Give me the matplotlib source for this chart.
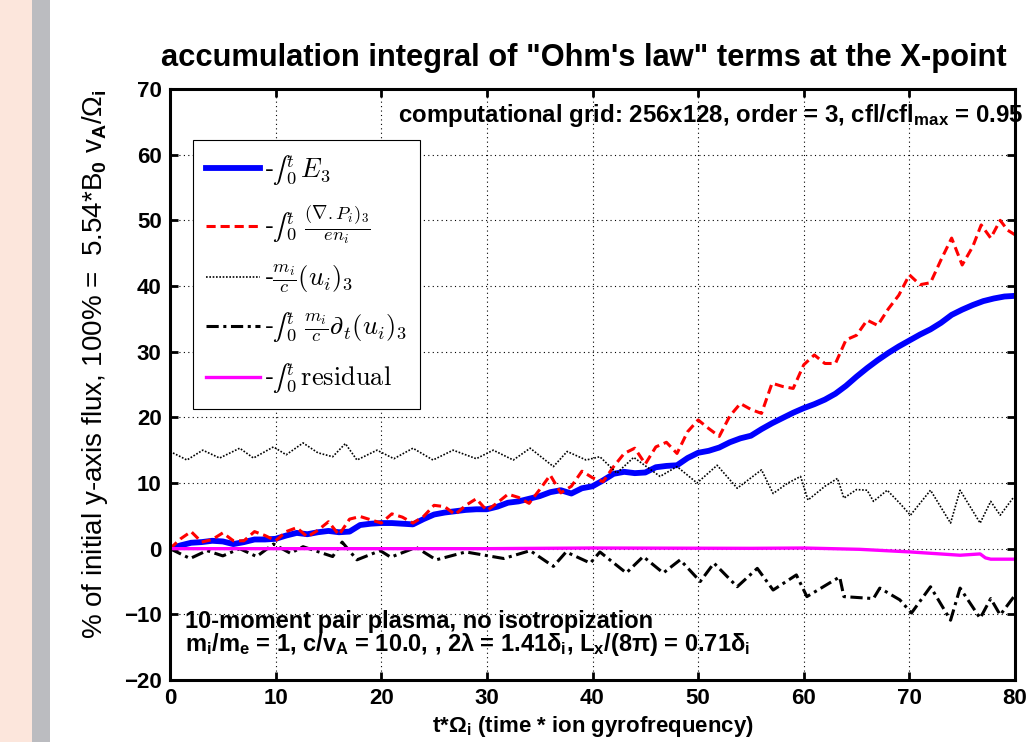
import numpy as np
import matplotlib
matplotlib.use("Agg")
import matplotlib.pyplot as plt
from matplotlib.font_manager import FontProperties
from matplotlib.patches import Rectangle

# ---- data (t*Omega_i, % of initial flux) ----
t_E3 = [0, 1, 2, 3, 4, 5, 6, 7, 8, 9, 10, 11, 12, 13, 14, 15, 16, 17, 18, 19, 20,
        21, 22, 23, 24, 25, 26, 27, 28, 29, 30, 31, 32, 33, 34, 35, 36, 37, 38, 39, 40,
        41, 42, 43, 44, 45, 46, 47, 48, 49, 50, 51, 52, 53, 54, 55, 56, 57, 58, 59, 60,
        61, 62, 63, 64, 65, 66, 67, 68, 69, 70, 71, 72, 73, 74, 75, 76, 77, 78, 79, 80]
E3 = [0, 0.5, 0.9, 1.0, 1.2, 1.1, 0.7, 1.0, 1.4, 1.4, 1.5, 2.0, 2.4, 2.2, 2.5, 2.7, 2.5,
      2.6, 3.6, 3.8, 3.9, 3.9, 3.8, 3.7, 4.5, 5.2, 5.5, 5.7, 5.9, 6.0, 6.0, 6.4, 7.0, 7.2,
      7.6, 8.0, 8.6, 8.9, 8.4, 9.2, 9.5, 10.4, 11.4, 11.7, 11.5, 11.6, 12.4, 12.6, 12.7,
      13.8, 14.6, 14.9, 15.4, 16.2, 16.8, 17.2, 18.2, 19.1, 19.9, 20.7, 21.4, 22.0, 22.7,
      23.6, 24.8, 26.2, 27.5, 28.7, 29.8, 30.8, 31.7, 32.6, 33.4, 34.4, 35.6, 36.4, 37.1,
      37.7, 38.1, 38.4, 38.5]

t_divP = [0, 1, 2, 3, 4, 5, 6, 7, 8, 9, 10, 11, 12, 13, 14, 15, 16, 17, 18, 19, 20,
          21, 22, 23, 24, 25, 26, 27, 28, 29, 30, 31, 32, 33, 34, 35, 36, 37, 38, 39, 40,
          41, 42, 43, 44, 45, 46, 47, 48, 49, 50, 51, 52, 53, 54, 55, 56, 57, 58, 59, 60,
          61, 62, 63, 64, 65, 66, 67, 68, 69, 70, 71, 72, 73, 74, 75, 76, 76.8, 77.7,
          78.6, 79.3, 80]
divP = [0, 1.5, 2.6, 1.0, 1.4, 2.4, 1.2, 1.2, 2.6, 2.0, 1.2, 2.6, 3.2, 1.8, 2.8, 4.1,
        2.1, 4.5, 4.9, 4.4, 3.9, 5.3, 4.8, 3.9, 4.9, 6.6, 6.4, 5.2, 6.6, 7.6, 5.8, 7.0,
        8.3, 7.8, 6.9, 9.0, 11.2, 8.5, 9.5, 11.8, 10.8, 10.2, 12.5, 14.5, 15.3, 12.9, 15.5,
        16.2, 14.5, 17.8, 19.6, 18.3, 17.1, 20.2, 22.1, 21.2, 20.6, 25.2, 24.7, 24.4, 28.0,
        29.5, 28.2, 28.2, 31.8, 32.5, 34.8, 34.0, 36.5, 38.6, 41.7, 40.2, 40.5, 44.0, 47.3,
        43.2, 46.0, 49.3, 47.3, 50.0, 48.5, 47.8]

t_ui = [0, 1, 1.6, 3.1, 4.7, 6.6, 7.9, 9.8, 11, 12.6, 14, 15.4, 16.6, 17.7, 19.6, 21.2,
        23, 24.9, 26.8, 29, 30.6, 32.5, 34.1, 36.3, 37.6, 39.4, 40.7, 42.3, 43.9, 46.4,
        48, 49.9, 51.8, 53.7, 56, 57.1, 58.5, 59.7, 60.4, 62, 63.2, 63.8, 65, 66, 66.6,
        67.9, 69.1, 70.1, 72, 73.9, 74.8, 76.7, 77.7, 78.6, 79.9]
ui = [14.8, 14.0, 13.5, 15.0, 13.8, 15.3, 13.8, 15.5, 14.3, 16.1, 14.6, 14.0, 16.0, 13.5,
      15.0, 13.7, 15.3, 13.5, 15.0, 13.7, 15.0, 13.5, 15.3, 12.5, 14.8, 13.5, 14.0, 11.5,
      13.9, 11.0, 12.5, 10.0, 12.7, 9.2, 12.0, 8.4, 10.0, 11.0, 7.4, 9.5, 10.7, 7.7, 9.0,
      8.9, 7.2, 8.9, 6.9, 5.1, 8.9, 3.9, 8.9, 3.9, 7.2, 5.1, 7.9]

t_dtui = [0, 1.9, 3.5, 5, 6.6, 8.2, 9.8, 11.4, 12.6, 15.4, 16.3, 17.7, 19.9, 20.9, 23.3,
          25.2, 28, 31.6, 34.1, 36.3, 37.5, 39.8, 40.7, 43.2, 44.8, 46.7, 48.3, 50.2,
          51.5, 53.7, 55.6, 57.1, 59.3, 60.3, 63.4, 63.8, 66.6, 67.2, 69.1, 70.2, 72,
          73.9, 74.8, 76.7, 77.7, 78.6, 79.9]
dtui = [0, -1.5, -0.3, -1.1, 0, -1.2, 0.7, -0.7, 0.3, -1.2, 1.0, -1.7, -0.3, -1.3, 0.2,
        -1.7, -0.5, -1.5, -0.3, -2.7, -0.5, -2.2, -0.5, -3.7, -1.2, -3.7, -1.7, -5.0,
        -2.2, -5.8, -3.0, -6.3, -4.0, -7.3, -4.3, -7.3, -7.6, -6.0, -7.8, -9.8, -5.8,
        -10.9, -6.0, -10.6, -7.6, -10.1, -7.3]

t_res = [0, 10, 30, 40, 55, 60, 65.3, 70.1, 74.8, 76.7, 77.2, 77.7, 79.9]
res = [0, 0, 0, 0.1, 0.05, 0.1, -0.1, -0.5, -1.0, -0.8, -1.4, -1.6, -1.6]

xticks = [0, 10, 20, 30, 40, 50, 60, 70, 80]
yticks = [-20, -10, 0, 10, 20, 30, 40, 50, 60, 70]

plt.rcParams['font.family'] = ['Liberation Sans', 'DejaVu Sans']
plt.rcParams['mathtext.fontset'] = 'custom'
plt.rcParams['mathtext.rm'] = 'Liberation Sans:bold'
plt.rcParams['mathtext.it'] = 'Liberation Sans:bold'
plt.rcParams['mathtext.bf'] = 'Liberation Sans:bold'

fig = plt.figure(figsize=(10.33, 7.42), dpi=100)
fig.patch.set_facecolor('white')
# coloured strips on the left edge of the page
fig.patches.append(Rectangle((0, 0), 32 / 1033, 1, transform=fig.transFigure,
                             facecolor='#fce6dc', edgecolor='none'))
fig.patches.append(Rectangle((32 / 1033, 0), 18 / 1033, 1, transform=fig.transFigure,
                             facecolor='#bbbcc0', edgecolor='none'))

ax = fig.add_axes([170 / 1033, 1 - 680 / 742, 845 / 1033, 591 / 742])

ax.plot(t_E3, E3, color='blue', lw=4.2, label=r'-$∫_0^t\, E_3$')
ax.plot(t_divP, divP, color='red', lw=2.2, ls=(0, (3, 1.6)),
        label=r'-$∫_0^t\ \frac{(\nabla.P_i)_3}{e n_i}$')
ax.plot(t_ui, ui, color='black', lw=1.2, ls=(0, (1, 1)),
        label=r'-$\frac{m_i}{c}(u_i)_3$')
ax.plot(t_dtui, dtui, color='black', lw=2.2, ls=(0, (4, 1.5, 1, 1.5)),
        label=r'-$∫_0^t\ \frac{m_i}{c}\partial_t(u_i)_3$')
ax.plot(t_res, res, color='magenta', lw=2.4,
        label=r'-$∫_0^t\, \mathrm{residual}$')

ax.set_xlim(0, 80)
ax.set_ylim(-20, 70)
ax.set_xticks(xticks)
ax.set_yticks(yticks)
ax.grid(True, color='black', ls=(0, (1, 3)), lw=0.8)
ax.tick_params(direction='in', length=6, width=2, top=True, right=True,
               labelsize=16, pad=6)
for lab in ax.get_xticklabels() + ax.get_yticklabels():
    lab.set_fontweight('bold')
for sp in ax.spines.values():
    sp.set_linewidth(2.2)

leg_font = FontProperties(family='Liberation Sans', size=19, math_fontfamily='cm')
leg = ax.legend(loc='upper left', bbox_to_anchor=(0.027, 0.914), prop=leg_font,
                fancybox=False, edgecolor='black', framealpha=1, handlelength=2.05,
                labelspacing=0.6, borderpad=0.5, handletextpad=0.15, borderaxespad=0)
leg.get_frame().set_linewidth(0.8)

ax.text(0.27, 0.956, r'computational grid: 256x128, order = 3, cfl/cfl$_{\rm max}$ = 0.95',
        transform=ax.transAxes, fontsize=17.3, fontweight='bold', va='center', ha='left',
        clip_on=False)
ax.text(0.018, 0.077,
        '10-moment pair plasma, no isotropization\n'
        r'm$_i$/m$_e$ = 1, c/v$_A$ = 10.0, , 2λ = 1.41δ$_i$, L$_x$/(8π) = 0.71δ$_i$',
        transform=ax.transAxes, fontsize=17, fontweight='bold', va='center', ha='left',
        linespacing=0.9)

fig.text(584 / 1033, 1 - 58 / 742,
         'accumulation integral of "Ohm\'s law" terms at the X-point',
         fontsize=22.2, fontweight='bold', ha='center', va='center')
ax.set_xlabel(r't*Ω$_i$ (time * ion gyrofrequency)', fontsize=16, fontweight='bold')
ax.xaxis.set_label_coords(0.5, -0.058)
ax.set_ylabel(r'% of initial y-axis flux, 100% =  5.54*B$_0$ v$_A$/Ω$_i$', fontsize=20)
ax.yaxis.set_label_coords(-0.071, 0.535)

fig.savefig('out.png', dpi=100)
